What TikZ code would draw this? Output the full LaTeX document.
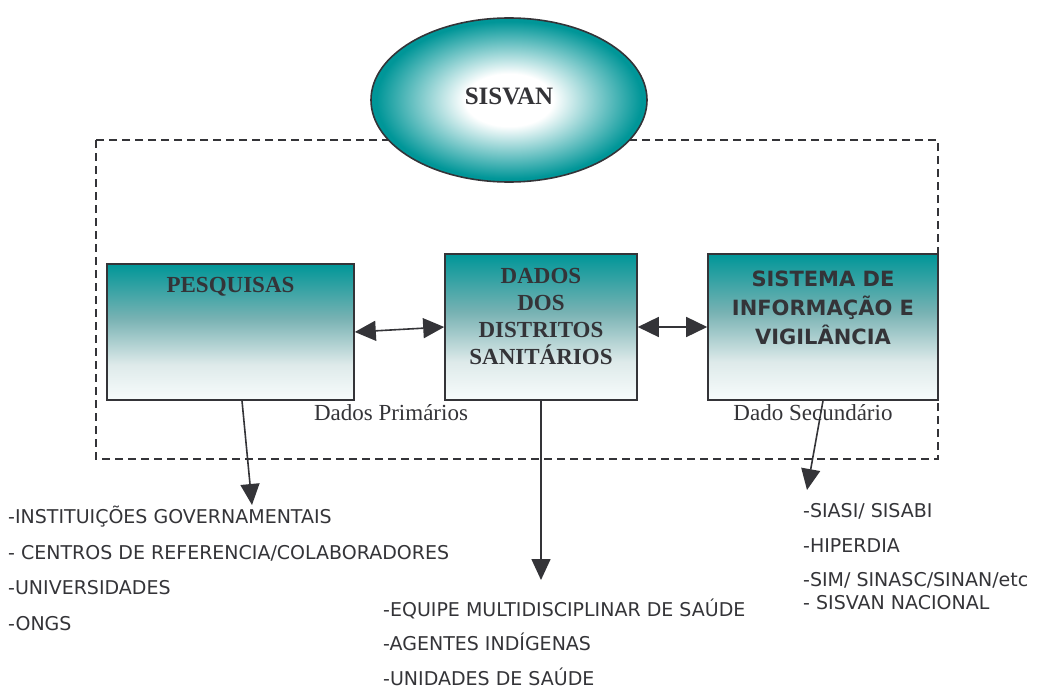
\documentclass[tikz,border=0pt]{standalone}
\usepackage{fontspec}
\setmainfont{Liberation Serif}
\newfontfamily\listfont{DejaVu Sans}
\usetikzlibrary{arrows.meta, positioning, shapes.geometric}
\definecolor{sisteal}{RGB}{0,150,152}
\definecolor{boxmid}{RGB}{120,178,179}
\definecolor{boxlow}{RGB}{222,234,234}
\definecolor{ink}{RGB}{52,52,56}
% shadings: the middle 50bp square is fitted to the path
\pgfdeclareradialshading{sisvanglow}{\pgfpoint{0bp}{0bp}}{%
  color(0bp)=(white); color(8bp)=(white); color(24bp)=(sisteal);
  color(25bp)=(sisteal); color(50bp)=(sisteal)}
\pgfdeclareverticalshading{boxfade}{100bp}{%
  color(0bp)=(white!97!sisteal); color(25bp)=(white!97!sisteal);
  color(38bp)=(boxlow); color(55bp)=(boxmid);
  color(75bp)=(sisteal); color(100bp)=(sisteal)}
\tikzset{
  box/.style = {draw=ink, line width=1.6pt, shading=boxfade, inner sep=0pt},
  bubble/.style = {ellipse, draw=ink, line width=1.6pt, shading=sisvanglow,
                   inner sep=0pt, minimum width=276pt, minimum height=164pt},
  title/.style = {text=ink, inner sep=0pt, align=center,
                  font=\bfseries\fontsize{23}{27}\selectfont},
  sys title/.style = {title, font=\listfont\bfseries\fontsize{21}{29}\selectfont},
  note/.style = {text=ink, inner sep=0pt, font=\fontsize{23}{27}\selectfont},
  item/.style = {text=ink, inner sep=0pt, anchor=base west,
                 font=\listfont\fontsize{19}{23}\selectfont},
  link/.style = {draw=ink, line width=1.6pt,
                 arrows={Triangle[length=21pt, width=20pt]-Triangle[length=21pt, width=20pt]}},
  feed/.style = {draw=ink, line width=1.6pt, arrows={-Triangle[length=21pt, width=19pt]}},
  frame/.style = {draw=ink, line width=1.5pt, dash pattern=on 8pt off 5pt},
}
\begin{document}
\begin{tikzpicture}[x=1pt, y=1pt]
  \useasboundingbox (0,0) rectangle (1037,-688);

  %% Dashed frame and the SISVAN bubble on top of it
  \draw [frame] (96,-140) rectangle (938,-459);
  \node [bubble] (sisvan) at (509,-100) {};
  \node [title, font=\bfseries\fontsize{25}{29}\selectfont] (sisvanlbl) at (509,-96) {SISVAN};

  %% The three sources
  \node [box, minimum width=247pt, minimum height=136pt] (pesq) at (230.5,-332) {};
  \node [box, minimum width=192pt, minimum height=146pt] (dados) at (541,-327) {};
  \node [box, minimum width=230pt, minimum height=146pt] (sist) at (823,-327) {};

  \node [title, below=14pt of pesq.north] (pesqlbl) {PESQUISAS};
  \node [title, below=15pt of dados.north] (dadoslbl)
    {DADOS\\DOS\\DISTRITOS\\SANIT\'ARIOS};
  \node [sys title, below=18pt of sist.north] (sistlbl)
    {SISTEMA DE\\INFORMAÇÃO E\\VIGILÂNCIA};

  %% Connect them together
  \draw [link] (pesq.east) -- (dados.west);
  \draw [link] (dados.east) -- (sist.west);

  \node [note] (prim) at (391,-413) {Dados Primários};
  \node [note] (sec) at (813,-413) {Dado Secundário};

  %% Where the data go
  \coordinate (pesqout) at (252,-505);
  \coordinate (dadosout) at (541,-580);
  \coordinate (sistout) at (807,-490);
  \draw [feed] ([xshift=11.5pt] pesq.south) -- (pesqout);
  \draw [feed] (dados.south) -- (dadosout);
  \draw [feed] (sist.south) -- (sistout);

  \foreach \txt [count=\i] in {{-INSTITUIÇÕES GOVERNAMENTAIS},
      {- CENTROS DE REFERENCIA/COLABORADORES}, {-UNIVERSIDADES}, {-ONGS}}
    \node [item] (pq\i) at (8, -523.5 - 35.5*\i + 35.5) {\txt};

  \foreach \txt [count=\i] in {{-EQUIPE MULTIDISCIPLINAR DE SAÚDE},
      {-AGENTES  INDÍGENAS}, {-UNIDADES DE SAÚDE}}
    \node [item] (ds\i) at (383, -616 - 34.5*\i + 34.5) {\txt};

  \node [item] (si1) at (803,-517) {-SIASI/ SISABI};
  \node [item] (si2) at (803,-552) {-HIPERDIA};
  \node [item] (si3) at (803,-586) {-SIM/ SINASC/SINAN/etc};
  \node [item] (si4) at (803,-609) {- SISVAN  NACIONAL};
\end{tikzpicture}
\end{document}
